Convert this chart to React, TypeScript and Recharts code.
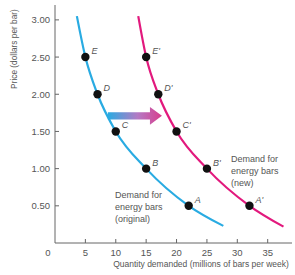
import React from 'react';
import { ComposedChart, Line, Scatter, XAxis, YAxis, ReferenceArea } from 'recharts';

const quantityTicks = [0, 5, 10, 15, 20, 25, 30, 35];
const priceTicks = [0.5, 1.0, 1.5, 2.0, 2.5, 3.0];

const originalCurve = [
  { q: 3.6, p: 3.05 },
  { q: 5, p: 2.5 },
  { q: 7, p: 2.0 },
  { q: 10, p: 1.5 },
  { q: 15, p: 1.0 },
  { q: 22, p: 0.5 },
  { q: 27.7, p: 0.23 },
];

const newCurve = [
  { q: 13.7, p: 3.05 },
  { q: 15, p: 2.5 },
  { q: 17, p: 2.0 },
  { q: 20, p: 1.5 },
  { q: 25, p: 1.0 },
  { q: 32, p: 0.5 },
  { q: 37.6, p: 0.22 },
];

const originalPoints = [
  { q: 5, p: 2.5, label: 'E' },
  { q: 7, p: 2.0, label: 'D' },
  { q: 10, p: 1.5, label: 'C' },
  { q: 15, p: 1.0, label: 'B' },
  { q: 22, p: 0.5, label: 'A' },
];

const newPoints = [
  { q: 15, p: 2.5, label: "E'" },
  { q: 17, p: 2.0, label: "D'" },
  { q: 20, p: 1.5, label: "C'" },
  { q: 25, p: 1.0, label: "B'" },
  { q: 32, p: 0.5, label: "A'" },
];

const shiftArrow = { fromQ: 8.7, toQ: 17.6, lowP: 1.59, highP: 1.83 };

const FONT = '"Liberation Sans", Arial, sans-serif';
const TEXT = '#555';
const BLUE = '#29abe2';
const PINK = '#e2197d';

const XTick = (props: any) => {
  const { x, y, payload } = props;
  const v = payload.value;
  if (v === 0) {
    return (
      <text x={x - 7} y={y + 13} textAnchor="middle" fontSize={9.5} fill={TEXT} fontFamily={FONT}>0</text>
    );
  }
  return (
    <g>
      <line x1={x} y1={y} x2={x} y2={y - 4} stroke="#666" strokeWidth={1} />
      <text x={x} y={y + 13} textAnchor="middle" fontSize={9.5} fill={TEXT} fontFamily={FONT}>{v}</text>
    </g>
  );
};

const YTick = (props: any) => {
  const { x, y, payload } = props;
  return (
    <g>
      <line x1={x} y1={y} x2={x + 4} y2={y} stroke="#666" strokeWidth={1} />
      <text x={x - 5} y={y + 3.5} textAnchor="end" fontSize={9.5} fill={TEXT} fontFamily={FONT}>
        {payload.value.toFixed(2)}
      </text>
    </g>
  );
};

const PointShape = (props: any) => {
  const { cx, cy, payload } = props;
  return (
    <g>
      <circle cx={cx} cy={cy} r={4.2} fill="#111" />
      <text x={cx + 6} y={cy - 3} fontSize={9} fontStyle="italic" fill={TEXT} fontFamily={FONT}>
        {payload.label}
      </text>
    </g>
  );
};

const ArrowShape = (props: any) => {
  const { x, y, width, height } = props;
  const head = 12;
  const s1 = y + height * 0.3;
  const s2 = y + height * 0.7;
  const hx = x + width - head;
  const d = `M${x},${s1} L${hx},${s1} L${hx},${y} L${x + width},${y + height / 2} L${hx},${y + height} L${hx},${s2} L${x},${s2} Z`;
  return <path d={d} fill="url(#shiftGrad)" />;
};

export default function App() {
  return (
    <div style={{ position: 'absolute', left: 0, top: 0, width: 295, height: 275, background: '#fff' }}>
      <svg width={0} height={0} style={{ position: 'absolute' }}>
        <defs>
          <linearGradient id="shiftGrad" x1="0" y1="0" x2="1" y2="0">
            <stop offset="0%" stopColor={BLUE} />
            <stop offset="55%" stopColor="#b47ac4" />
            <stop offset="100%" stopColor="#d93d8d" />
          </linearGradient>
        </defs>
      </svg>
      <ComposedChart width={295} height={275} margin={{ top: 5, right: 3, bottom: 0, left: 0 }}>
        <XAxis
          type="number"
          dataKey="q"
          domain={[0, 39]}
          ticks={quantityTicks}
          height={32}
          tickSize={0}
          tickMargin={0}
          tickLine={false}
          axisLine={{ stroke: '#666' }}
          tick={XTick}
          allowDataOverflow
          interval={0}
        />
        <YAxis
          type="number"
          dataKey="p"
          domain={[0, 3.2]}
          ticks={priceTicks}
          width={55}
          tickSize={0}
          tickMargin={0}
          tickLine={false}
          axisLine={{ stroke: '#666' }}
          tick={YTick}
          allowDataOverflow
          interval={0}
        />
        <ReferenceArea
          x1={shiftArrow.fromQ}
          x2={shiftArrow.toQ}
          y1={shiftArrow.lowP}
          y2={shiftArrow.highP}
          shape={ArrowShape}
        />
        <Line data={originalCurve} dataKey="p" type="monotone" stroke={BLUE} strokeWidth={2.2} dot={false} isAnimationActive={false} />
        <Line data={newCurve} dataKey="p" type="monotone" stroke={PINK} strokeWidth={2.2} dot={false} isAnimationActive={false} />
        <Scatter data={originalPoints} dataKey="p" shape={PointShape} isAnimationActive={false} />
        <Scatter data={newPoints} dataKey="p" shape={PointShape} isAnimationActive={false} />
      </ComposedChart>
      <svg width={295} height={275} style={{ position: 'absolute', left: 0, top: 0, pointerEvents: 'none' }}>
        <text transform="translate(17,49) rotate(-90)" textAnchor="middle" fontSize={8.3} fill={TEXT} fontFamily={FONT}>
          Price (dollars per bar)
        </text>
        <text x={201} y={267} textAnchor="middle" fontSize={8.5} fill={TEXT} fontFamily={FONT}>
          Quantity demanded (millions of bars per week)
        </text>
        <g fontSize={9} fill={TEXT} fontFamily={FONT}>
          <text x={115} y={198}>Demand for</text>
          <text x={115} y={210}>energy bars</text>
          <text x={115} y={222}>(original)</text>
          <text x={231} y={162}>Demand for</text>
          <text x={231} y={174}>energy bars</text>
          <text x={231} y={186}>(new)</text>
        </g>
      </svg>
    </div>
  );
}
